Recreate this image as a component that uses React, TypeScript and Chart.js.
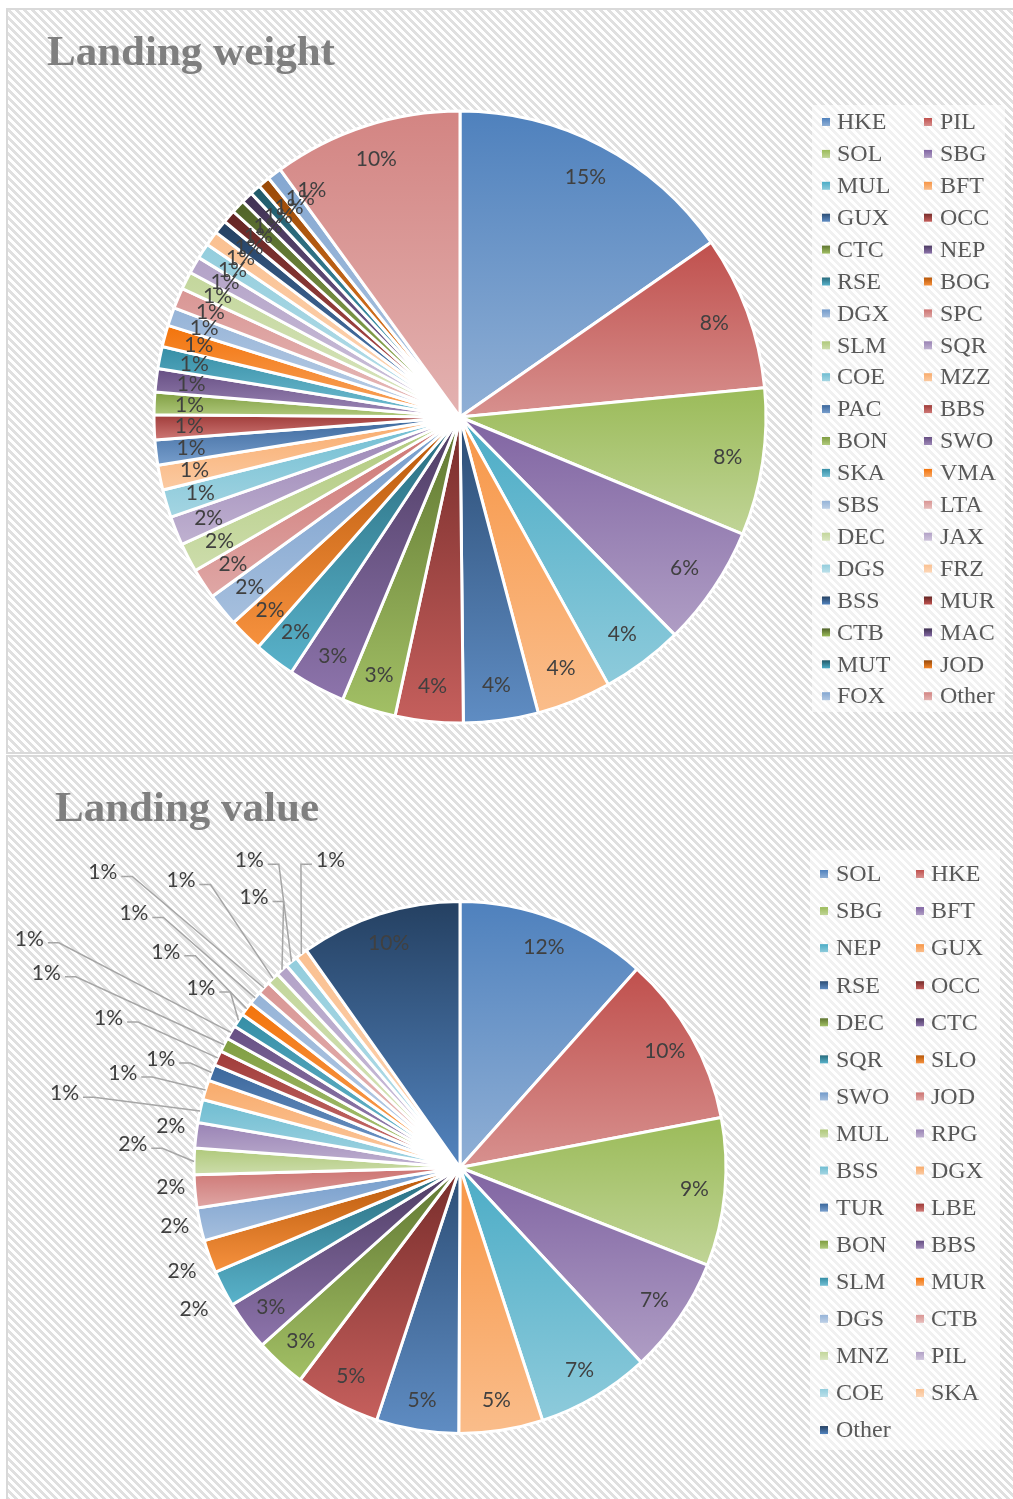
import { useEffect, useRef } from 'react';
import { Chart, registerables } from 'chart.js';

Chart.register(...registerables);

// ---------------- data ----------------
const weightCategories = [
  'HKE', 'PIL', 'SOL', 'SBG', 'MUL', 'BFT', 'GUX', 'OCC', 'CTC', 'NEP',
  'RSE', 'BOG', 'DGX', 'SPC', 'SLM', 'SQR', 'COE', 'MZZ', 'PAC', 'BBS',
  'BON', 'SWO', 'SKA', 'VMA', 'SBS', 'LTA', 'DEC', 'JAX', 'DGS', 'FRZ',
  'BSS', 'MUR', 'CTB', 'MAC', 'MUT', 'JOD', 'FOX', 'Other',
];
const weightShares = [
  15.33, 8.14, 7.78, 6.36, 4.33, 3.94, 3.94, 3.58, 2.86, 3.03,
  2.17, 1.81, 1.75, 1.61, 1.53, 1.53, 1.47, 1.31, 1.33, 1.31,
  1.19, 1.22, 1.17, 1.14, 0.97, 1.08, 0.94, 0.89, 0.81, 0.78,
  0.72, 0.69, 0.72, 0.61, 0.56, 0.64, 0.75, 10.0,
];

const valueCategories = [
  'SOL', 'HKE', 'SBG', 'BFT', 'NEP', 'GUX', 'RSE', 'OCC', 'DEC', 'CTC',
  'SQR', 'SLO', 'SWO', 'JOD', 'MUL', 'RPG', 'BSS', 'DGX', 'TUR', 'LBE',
  'BON', 'BBS', 'SLM', 'MUR', 'DGS', 'CTB', 'MNZ', 'PIL', 'COE', 'SKA',
  'Other',
];
const valueShares = [
  11.6, 10.4, 9.0, 7.1, 6.9, 5.1, 5.0, 5.2, 3.1, 3.0,
  2.2, 2.0, 2.0, 2.0, 1.6, 1.55, 1.4, 1.2, 1.0, 0.9,
  0.85, 0.85, 0.85, 0.85, 0.8, 0.8, 0.75, 0.75, 0.75, 0.75,
  9.8,
];

// ---------------- label layout (Landing value: labels moved outside, in pie-radius units) ----------------
const valueOutsideSpots: Record<number, [number, number, boolean]> = {
  10: [-1.0, 0.532, false],
  11: [-1.045, 0.389, false],
  12: [-1.072, 0.219, false],
  13: [-1.087, 0.075, false],
  14: [-1.23, -0.087, true],
  15: [-1.087, -0.155, false],
  16: [-1.487, -0.279, true],
  17: [-1.268, -0.355, true],
  18: [-1.125, -0.408, true],
  19: [-1.321, -0.562, true],
  20: [-1.555, -0.732, true],
  21: [-1.619, -0.86, true],
  22: [-0.974, -0.675, true],
  23: [-1.106, -0.811, true],
  24: [-1.226, -0.955, true],
  25: [-1.343, -1.109, true],
  26: [-1.049, -1.079, true],
  27: [-0.774, -1.015, true],
  28: [-0.792, -1.155, true],
  29: [-0.487, -1.155, true],
};

// ---------------- colours ----------------
const ACCENTS = ['#4F81BD', '#C0504D', '#9BBB59', '#8064A2', '#4BACC6', '#F79646'];
const CYCLE_LIGHTNESS: ((l: number) => number)[] = [
  (l) => l,
  (l) => l * 0.6,
  (l) => l + (1 - l) * 0.2,
  (l) => l * 0.8,
  (l) => l + (1 - l) * 0.4,
  (l) => l * 0.5,
  (l) => l + (1 - l) * 0.3,
];
const GRADIENT_TINT = 0.37;

function hexToHsl(hex: string): [number, number, number] {
  const n = parseInt(hex.slice(1), 16);
  const r = ((n >> 16) & 255) / 255;
  const g = ((n >> 8) & 255) / 255;
  const b = (n & 255) / 255;
  const max = Math.max(r, g, b);
  const min = Math.min(r, g, b);
  const l = (max + min) / 2;
  let h = 0;
  let s = 0;
  if (max !== min) {
    const d = max - min;
    s = l > 0.5 ? d / (2 - max - min) : d / (max + min);
    if (max === r) h = (g - b) / d + (g < b ? 6 : 0);
    else if (max === g) h = (b - r) / d + 2;
    else h = (r - g) / d + 4;
    h *= 60;
  }
  return [h, s, l];
}
const hsl = (h: number, s: number, l: number) =>
  `hsl(${h.toFixed(1)}, ${(s * 100).toFixed(1)}%, ${(l * 100).toFixed(1)}%)`;

function seriesShades(i: number) {
  const [h, s, l] = hexToHsl(ACCENTS[i % 6]);
  const lc = CYCLE_LIGHTNESS[Math.floor(i / 6) % CYCLE_LIGHTNESS.length](l);
  return { top: hsl(h, s, lc), bottom: hsl(h, s, lc + (1 - lc) * GRADIENT_TINT) };
}

// vertical gradient over the bounding box of a slice
function sliceGradient(c: any, radius: number) {
  const i = c.dataIndex;
  const shades = seriesShades(i);
  const chart = c.chart;
  const area = chart.chartArea;
  if (!area || c.type !== 'data') return shades.top;
  const data = c.dataset.data as number[];
  const total = data.reduce((a, b) => a + b, 0);
  let start = -Math.PI / 2;
  for (let j = 0; j < i; j++) start += (data[j] / total) * Math.PI * 2;
  const end = start + (data[i] / total) * Math.PI * 2;
  const cy = (area.top + area.bottom) / 2;
  const angles = [start, end];
  for (let k = -4; k <= 8; k++) {
    const a = (k * Math.PI) / 2;
    if (a > start && a < end) angles.push(a);
  }
  let minY = cy;
  let maxY = cy;
  for (const a of angles) {
    const py = cy + radius * Math.sin(a);
    minY = Math.min(minY, py);
    maxY = Math.max(maxY, py);
  }
  if (maxY - minY < 1) maxY = minY + 1;
  const g = chart.ctx.createLinearGradient(0, minY, 0, maxY);
  g.addColorStop(0, shades.top);
  g.addColorStop(1, shades.bottom);
  return g;
}

// ---------------- plugins ----------------
function titlePlugin(text: string, x: number, y: number) {
  return {
    id: 'cornerTitle',
    afterDraw(chart: any) {
      const ctx = chart.ctx;
      ctx.save();
      ctx.font = 'bold 43px "Liberation Serif", "Times New Roman", serif';
      ctx.fillStyle = '#7f7f7f';
      ctx.textAlign = 'left';
      ctx.textBaseline = 'alphabetic';
      ctx.fillText(text, x, y);
      ctx.restore();
    },
  };
}

type LegendCfg = {
  box: [number, number, number, number];
  swatchX: [number, number];
  textX: [number, number];
  rowY0: number;
  rowStep: number;
};

function gridLegendPlugin(cfg: LegendCfg) {
  return {
    id: 'gridLegend',
    afterDraw(chart: any) {
      const ctx = chart.ctx;
      const labels = chart.data.labels as string[];
      ctx.save();
      ctx.fillStyle = 'rgba(255,255,255,0.55)';
      ctx.fillRect(cfg.box[0], cfg.box[1], cfg.box[2], cfg.box[3]);
      ctx.font = '24px "Liberation Serif", "Times New Roman", serif';
      ctx.textAlign = 'left';
      ctx.textBaseline = 'middle';
      labels.forEach((lab, i) => {
        const col = i % 2;
        const row = Math.floor(i / 2);
        const cy = cfg.rowY0 + row * cfg.rowStep;
        const sh = seriesShades(i);
        const sx = cfg.swatchX[col];
        const g = ctx.createLinearGradient(0, cy - 4, 0, cy + 4);
        g.addColorStop(0, sh.top);
        g.addColorStop(1, sh.bottom);
        ctx.fillStyle = g;
        ctx.fillRect(sx, cy - 4, 8, 8);
        ctx.fillStyle = '#595959';
        ctx.fillText(lab, cfg.textX[col], cy + 1);
      });
      ctx.restore();
    },
  };
}

function pctText(v: number, total: number) {
  return Math.round((v / total) * 100) + '%';
}

function sliceLabelPlugin(
  radialFactor: number,
  minGapDeg: number,
  outside: Record<number, [number, number, boolean]>,
) {
  return {
    id: 'sliceLabels',
    afterDatasetsDraw(chart: any) {
      const meta = chart.getDatasetMeta(0);
      const data = chart.data.datasets[0].data as number[];
      const total = data.reduce((a, b) => a + b, 0);
      const ctx = chart.ctx;
      ctx.save();
      ctx.font = '21px Lato, "Open Sans", sans-serif';
      ctx.textAlign = 'center';
      ctx.textBaseline = 'middle';
      let prev = -Infinity;
      const gap = (minGapDeg * Math.PI) / 180;
      meta.data.forEach((arc: any, i: number) => {
        const p = arc.getProps(['x', 'y', 'startAngle', 'endAngle', 'outerRadius'], true);
        const mid = (p.startAngle + p.endAngle) / 2;
        const text = pctText(data[i], total);
        const spot = outside[i];
        if (spot) {
          const lx = p.x + spot[0] * p.outerRadius;
          const ly = p.y + spot[1] * p.outerRadius;
          if (spot[2]) {
            const ex = p.x + Math.cos(mid) * p.outerRadius;
            const ey = p.y + Math.sin(mid) * p.outerRadius;
            const half = ctx.measureText(text).width / 2;
            const dir = lx < ex ? 1 : -1;
            const sx = lx + dir * (half + 4);
            const sy = ly + 4;
            ctx.strokeStyle = '#a6a6a6';
            ctx.lineWidth = 1.5;
            ctx.beginPath();
            ctx.moveTo(sx, sy);
            ctx.lineTo(sx + dir * 11, sy);
            ctx.lineTo(ex, ey);
            ctx.stroke();
          }
          ctx.fillStyle = '#404040';
          ctx.fillText(text, lx, ly);
          return;
        }
        const a = Math.max(mid, prev + gap);
        prev = a;
        const r = p.outerRadius * radialFactor;
        ctx.fillStyle = '#404040';
        ctx.fillText(text, p.x + Math.cos(a) * r, p.y + Math.sin(a) * r);
      });
      ctx.restore();
    },
  };
}

// ---------------- chart configs ----------------
const CANVAS_W = 1005;
const CANVAS_H = 742;

function weightConfig(): any {
  const radius = 306;
  return {
    type: 'pie',
    data: {
      labels: weightCategories,
      datasets: [
        {
          data: weightShares,
          radius,
          backgroundColor: (c: any) => sliceGradient(c, radius),
          borderColor: '#ffffff',
          borderWidth: 3,
        },
      ],
    },
    options: {
      responsive: false,
      animation: false,
      events: [],
      layout: { padding: { left: 142, right: 243, top: 100, bottom: 28 } },
      plugins: { legend: { display: false }, title: { display: false }, tooltip: { enabled: false } },
    },
    plugins: [
      titlePlugin('Landing weight', 39, 55),
      sliceLabelPlugin(0.885, 3.0, {}),
      gridLegendPlugin({
        box: [804, 95, 193, 607],
        swatchX: [814, 916],
        textX: [829, 932],
        rowY0: 112,
        rowStep: 31.9,
      }),
    ],
  };
}

function valueConfig(): any {
  const radius = 266;
  return {
    type: 'pie',
    data: {
      labels: valueCategories,
      datasets: [
        {
          data: valueShares,
          radius,
          backgroundColor: (c: any) => sliceGradient(c, radius),
          borderColor: '#ffffff',
          borderWidth: 3,
        },
      ],
    },
    options: {
      responsive: false,
      animation: false,
      events: [],
      layout: { padding: { left: 142, right: 243, top: 140, bottom: 61 } },
      plugins: { legend: { display: false }, title: { display: false }, tooltip: { enabled: false } },
    },
    plugins: [
      titlePlugin('Landing value', 47, 64),
      sliceLabelPlugin(0.885, 0, valueOutsideSpots),
      gridLegendPlugin({
        box: [802, 93, 190, 600],
        swatchX: [812, 908],
        textX: [828, 923],
        rowY0: 117,
        rowStep: 37.07,
      }),
    ],
  };
}

// ---------------- components ----------------
function PieCanvas({ makeConfig }: { makeConfig: () => any }) {
  const ref = useRef<HTMLCanvasElement | null>(null);
  useEffect(() => {
    if (!ref.current) return;
    const chart = new Chart(ref.current, makeConfig());
    return () => chart.destroy();
  }, [makeConfig]);
  return <canvas ref={ref} width={CANVAS_W} height={CANVAS_H} style={{ display: 'block' }} />;
}

const stripes =
  'repeating-linear-gradient(45deg, #ffffff 0px, #ffffff 3.3px, #e0e0e0 3.3px, #e0e0e0 5.657px)';

const boxStyle = (top: number, height: number): React.CSSProperties => ({
  position: 'absolute',
  left: 6,
  top,
  width: 1012,
  height,
  boxSizing: 'border-box',
  border: '2px solid #d9d9d9',
  background: stripes,
  overflow: 'hidden',
});

export default function App() {
  return (
    <div
      style={{
        position: 'absolute',
        left: 0,
        top: 0,
        width: 1013,
        height: 1499,
        overflow: 'hidden',
        background: '#ffffff',
      }}
    >
      <div style={boxStyle(8, 746)}>
        <PieCanvas makeConfig={weightConfig} />
      </div>
      <div style={boxStyle(755, 760)}>
        <PieCanvas makeConfig={valueConfig} />
      </div>
    </div>
  );
}
